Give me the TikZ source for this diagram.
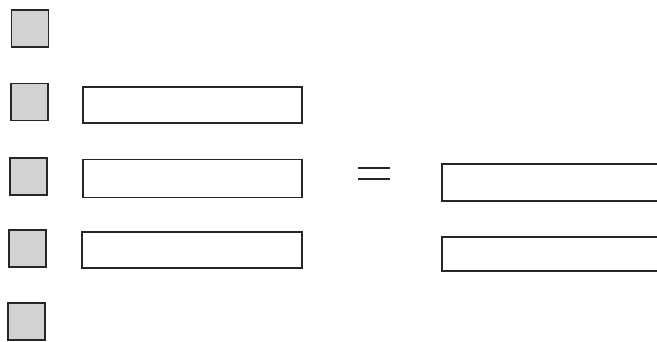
\documentclass[tikz,border=0pt]{standalone}
\begin{document}
\begin{tikzpicture}[x=1pt,y=-1pt,
  sq/.style={draw=black!85,line width=1.3pt,fill=gray!35,minimum width=37pt,minimum height=37pt,inner sep=0pt,outer sep=0pt},
  bar/.style={draw=black!85,line width=1.1pt,fill=white,inner sep=0pt,outer sep=0pt},
  eqline/.style={draw=black!85,line width=1.4pt}]
\useasboundingbox (0,0) rectangle (657,341);
\clip (0,0) rectangle (657,341);
\node[sq] (s1) at (30,28.5) {};
\node[sq] (s2) at (29.5,102) {};
\node[sq] (s3) at (28.5,176.5) {};
\node[sq] (s4) at (27.5,248.5) {};
\node[sq] (s5) at (26.5,321.5) {};
\node[bar,minimum width=219pt,minimum height=36pt] (r2) at (192.5,105) {};
\node[bar,minimum width=219pt,minimum height=38pt] (r3) at (192.5,178.5) {};
\node[bar,minimum width=220pt,minimum height=36pt] (r4) at (192,250) {};
\node[bar,minimum width=220pt,minimum height=37pt] (q3) at (552,182.5) {};
\node[bar,minimum width=220pt,minimum height=34pt] (q4) at (552,254) {};
\coordinate (e1) at (358,168);
\coordinate (e2) at (390,168);
\coordinate (e3) at (358,179);
\coordinate (e4) at (390,179);
\draw[eqline] (e1) -- (e2);
\draw[eqline] (e3) -- (e4);
\end{tikzpicture}
\end{document}
